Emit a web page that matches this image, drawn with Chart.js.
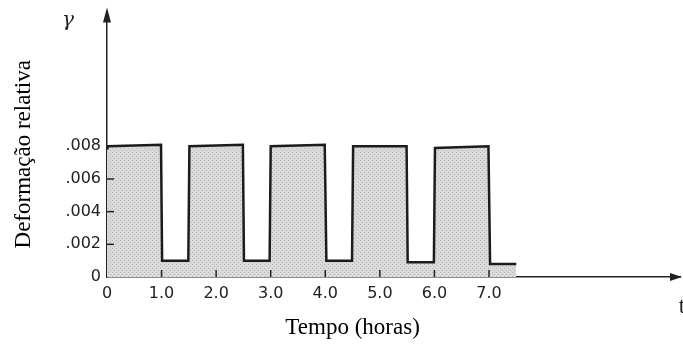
<!DOCTYPE html>
<html>
<head>
<meta charset="utf-8">
<script src="https://cdn.jsdelivr.net/npm/chart.js@4.4.1/dist/chart.umd.min.js"></script>
<style>
  html, body { margin: 0; padding: 0; background: #fff; }
  #wrap { width: 683px; height: 345px; }
</style>
</head>
<body>
<div id="wrap"><canvas id="chart"></canvas></div>
<script>
'use strict'

// tempo (horas) e deformação relativa
const tempo = [0, 0.02, 0.99, 1.01, 1.49, 1.51, 2.49, 2.51, 2.98, 3.0, 3.99, 4.02, 4.49, 4.51, 5.49, 5.51, 5.99, 6.01, 6.99, 7.02, 7.5];
const deformacao = [0.0078, 0.0080, 0.0081, 0.0010, 0.0010, 0.0080, 0.0081, 0.0010, 0.0010, 0.0080, 0.0081, 0.0010, 0.0010, 0.0080, 0.0080, 0.0009, 0.0009, 0.0079, 0.0080, 0.0008, 0.0008];
const xTicks = [0, 1, 2, 3, 4, 5, 6, 7];
const yTicks = [0, 0.002, 0.004, 0.006, 0.008];

const points = tempo.map((t, i) => ({ x: t, y: deformacao[i] }));

// textura pontilhada do preenchimento
function makePattern() {
    const c = document.createElement('canvas');
    c.width = 4; c.height = 4;
    const g = c.getContext('2d');
    g.fillStyle = '#dadada';
    g.fillRect(0, 0, 4, 4);
    g.fillStyle = '#b6b6b6';
    g.fillRect(0, 0, 1, 1);
    g.fillRect(2, 2, 1, 1);
    return g.createPattern(c, 'repeat');
}

const ctx = document.getElementById('chart').getContext('2d');

const extras = {
    id: 'extras',
    afterDraw(chart) {
        const c = chart.ctx;
        const x = chart.scales.x;
        const y = chart.scales.y;
        const x0 = x.getPixelForValue(0);
        const y0 = y.getPixelForValue(0);
        c.save();
        c.strokeStyle = '#222';
        c.fillStyle = '#222';
        c.lineWidth = 1.5;

        // marcas internas
        yTicks.slice(1, 4).forEach(v => {
            const py = y.getPixelForValue(v);
            c.beginPath(); c.moveTo(x0, py); c.lineTo(x0 + 7, py); c.stroke();
        });
        xTicks.slice(1).forEach(v => {
            const px = x.getPixelForValue(v);
            c.beginPath(); c.moveTo(px, y0); c.lineTo(px, y0 - 7); c.stroke();
        });

        // setas dos eixos
        const top = chart.chartArea.top;
        c.beginPath();
        c.moveTo(x0, top - 8); c.lineTo(x0 - 4, top + 7); c.lineTo(x0 + 4, top + 7);
        c.closePath(); c.fill();
        const right = chart.chartArea.right;
        c.beginPath();
        c.moveTo(right + 2, y0); c.lineTo(right - 10, y0 - 4); c.lineTo(right - 10, y0 + 4);
        c.closePath(); c.fill();

        // rótulos
        c.font = 'italic 20px "DejaVu Serif"';
        c.textAlign = 'center';
        c.textBaseline = 'middle';
        c.fillText('γ', x0 - 39, top + 5);
        c.font = '23px "Liberation Serif"';
        c.fillText('t', right + 2, y0 + 30);

        c.fillStyle = '#000';
        c.fillText('Tempo (horas)', x.getPixelForValue(4.5), y0 + 51);
        c.translate(24, (chart.chartArea.top + y0) / 2 + 8);
        c.rotate(-Math.PI / 2);
        c.fillText('Deformação relativa', 0, 0);
        c.restore();
    }
};

new Chart(ctx, {
    type: 'line',
    data: {
        datasets: [{
            data: points,
            borderColor: '#1c1c1c',
            borderWidth: 2.5,
            backgroundColor: makePattern(),
            fill: 'origin',
            pointRadius: 0,
            tension: 0
        }]
    },
    options: {
        responsive: true,
        maintainAspectRatio: false,
        animation: false,
        layout: { padding: { top: 15, right: 3, left: 0, bottom: 0 } },
        plugins: { legend: { display: false }, tooltip: { enabled: false } },
        scales: {
            x: {
                type: 'linear',
                min: 0,
                max: 10.5,
                afterFit: s => { s.height = 68; },
                afterBuildTicks: s => { s.ticks = xTicks.map(v => ({ value: v })); },
                ticks: {
                    padding: 7,
                    color: '#222',
                    font: { family: 'DejaVu Sans', size: 16 },
                    callback: v => v === 0 ? '0' : v.toFixed(1)
                },
                grid: { display: false, drawTicks: false },
                border: { color: '#222', width: 1.5 }
            },
            y: {
                min: 0,
                max: 0.016,
                afterFit: s => { s.width = 107; },
                afterBuildTicks: s => { s.ticks = yTicks.map(v => ({ value: v })); },
                ticks: {
                    padding: 6,
                    color: '#222',
                    font: { family: 'DejaVu Sans', size: 16 },
                    callback: v => v === 0 ? '0' : v.toFixed(3).replace(/^0/, '')
                },
                grid: { display: false, drawTicks: false },
                border: { color: '#222', width: 1.5 }
            }
        }
    },
    plugins: [extras]
});
</script>
</body>
</html>
